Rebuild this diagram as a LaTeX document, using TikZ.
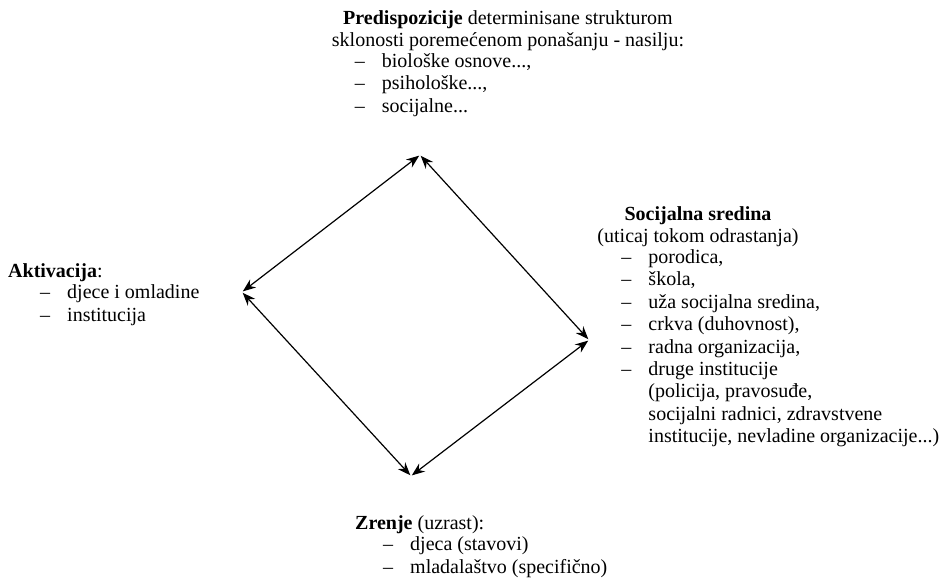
\documentclass[tikz,border=0pt]{standalone}
\usepackage{fontspec}
\setmainfont{Liberation Serif}
\usetikzlibrary{arrows.meta,positioning}

\tikzset{
  tekst/.style={inner sep=0pt, align=left,
    execute at begin node=\strut, execute at end node=\strut},
  naslov/.style={tekst, align=center, anchor=north},
  strelica/.style={{Stealth[length=13pt,width=10pt]}-{Stealth[length=13pt,width=10pt]},
    line width=1.2pt, shorten <=1pt, shorten >=1pt}
}
\newcommand{\stavka}[1]{\makebox[27pt][l]{\textendash}#1}
\newcommand{\nastavak}{\hspace*{27pt}}

\begin{document}
\begin{tikzpicture}[x=1pt, y=-1pt, font=\fontsize{20}{22.4}\selectfont]
\useasboundingbox (0,0) rectangle (940,582);

% uglovi romba
\coordinate (gore) at (420,155);
\coordinate (desno) at (589,340);
\coordinate (dolje) at (411,476);
\coordinate (lijevo) at (242,292);

\draw [strelica] (gore) -- (desno);
\draw [strelica] (desno) -- (dolje);
\draw [strelica] (dolje) -- (lijevo);
\draw [strelica] (lijevo) -- (gore);

% predispozicije
\node [naslov] (predispozicije) at (508,10) {\textbf{Predispozicije} determinisane strukturom\\
  sklonosti poremećenom ponašanju - nasilju:};
\node [tekst, below right=0pt and 23pt of predispozicije.south west] (predispozicije-lista) {%
  \stavka{biološke osnove...,}\\
  \stavka{psihološke...,}\\
  \stavka{socijalne...}};

% socijalna sredina
\node [naslov] (sredina) at (698,206) {\textbf{Socijalna sredina}\\
  (uticaj tokom odrastanja)};
\node [tekst, below right=0pt and 24pt of sredina.south west] (sredina-lista) {%
  \stavka{porodica,}\\
  \stavka{škola,}\\
  \stavka{uža socijalna sredina,}\\
  \stavka{crkva (duhovnost),}\\
  \stavka{radna organizacija,}\\
  \stavka{druge institucije}\\
  \nastavak(policija, pravosuđe,\\
  \nastavak socijalni radnici, zdravstvene\\
  \nastavak institucije, nevladine organizacije...)};

% aktivacija
\node [tekst, anchor=north west] (aktivacija) at (8,262) {\textbf{Aktivacija}:};
\node [tekst, below right=0pt and 32pt of aktivacija.south west] (aktivacija-lista) {%
  \stavka{djece i omladine}\\
  \stavka{institucija}};

% zrenje
\node [tekst, anchor=north west] (zrenje) at (355,514) {\textbf{Zrenje} (uzrast):};
\node [tekst, below right=0pt and 28pt of zrenje.south west] (zrenje-lista) {%
  \stavka{djeca (stavovi)}\\
  \stavka{mladalaštvo (specifično)}};
\end{tikzpicture}
\end{document}
